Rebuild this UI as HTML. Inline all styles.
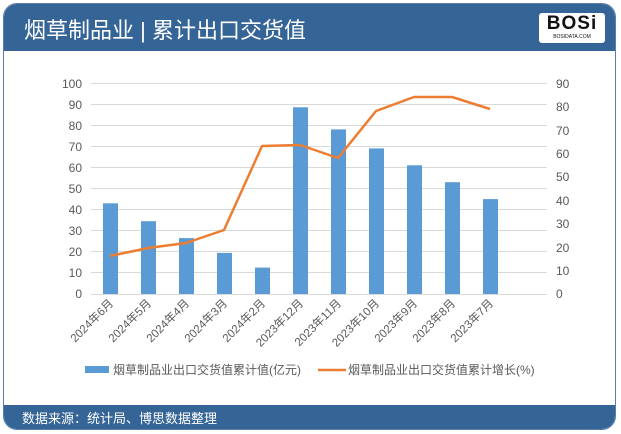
<!DOCTYPE html>
<html><head><meta charset="utf-8"><style>
body{margin:0;width:621px;height:434px;background:#fff;overflow:hidden;font-family:"Liberation Sans","Noto Sans CJK SC",sans-serif}
.frame{position:absolute;left:3px;top:3px;width:613px;height:427px;border:1px solid #5b7fa8;border-radius:14px;overflow:hidden;box-sizing:border-box}
.hdr{position:absolute;left:0;top:0;width:100%;height:47px;background:#356596}
.hdr .t{position:absolute;left:20px;top:9px;color:#fff;font-size:22px}
.logo{position:absolute;right:10px;top:9px;width:66px;height:30px;background:#fff;border-radius:3px;text-align:center}
.logo b{display:block;font:900 19px "Liberation Sans",sans-serif;color:#111;line-height:21px;letter-spacing:1px}
.logo i{display:block;font:5px "Liberation Sans",sans-serif;font-style:normal;color:#111}
.ftr{position:absolute;left:0;bottom:0;width:100%;height:24px;background:#356596;color:#fff;font-size:13px}
.ftr span{position:absolute;left:18px;top:3px}
</style></head><body>
<div class="frame">
<div class="hdr"><div class="t">烟草制品业 | 累计出口交货值</div><div class="logo"><b>BOSi</b><i>BOSIDATA.COM</i></div></div>
<div class="ftr"><span>数据来源：统计局、博思数据整理</span></div>
</div>
<svg style="position:absolute;left:0;top:0" width="621" height="434" font-family="Liberation Sans,Noto Sans CJK SC,sans-serif" font-size="12" fill="#595959">
<g stroke="#d9d9d9" stroke-width="1">
<line x1="91" x2="547" y1="83.5" y2="83.5"/><line x1="91" x2="547" y1="104.5" y2="104.5"/><line x1="91" x2="547" y1="125.5" y2="125.5"/><line x1="91" x2="547" y1="146.5" y2="146.5"/><line x1="91" x2="547" y1="167.5" y2="167.5"/><line x1="91" x2="547" y1="188.5" y2="188.5"/><line x1="91" x2="547" y1="209.5" y2="209.5"/><line x1="91" x2="547" y1="230.5" y2="230.5"/><line x1="91" x2="547" y1="251.5" y2="251.5"/><line x1="91" x2="547" y1="272.5" y2="272.5"/><line x1="91" x2="547" y1="294.5" y2="294.5"/>
</g>
<g text-anchor="end">
<text x="82" y="88">100</text><text x="82" y="109">90</text><text x="82" y="130">80</text><text x="82" y="151">70</text><text x="82" y="172">60</text><text x="82" y="193">50</text><text x="82" y="214">40</text><text x="82" y="235">30</text><text x="82" y="256">20</text><text x="82" y="277">10</text><text x="82" y="298">0</text>
</g>
<g>
<text x="556" y="88">90</text><text x="556" y="111">80</text><text x="556" y="135">70</text><text x="556" y="158">60</text><text x="556" y="181">50</text><text x="556" y="205">40</text><text x="556" y="228">30</text><text x="556" y="252">20</text><text x="556" y="275">10</text><text x="556" y="298">0</text>
</g>
<g fill="#5b9bd5">
<rect x="103" y="203.3" width="15" height="90.7"/><rect x="141" y="221.2" width="15" height="72.8"/><rect x="179" y="238.1" width="15" height="55.9"/><rect x="217" y="252.9" width="15" height="41.1"/><rect x="255" y="267.6" width="15" height="26.4"/><rect x="293" y="107.3" width="15" height="186.7"/><rect x="331" y="129.4" width="15" height="164.6"/><rect x="369" y="148.4" width="15" height="145.6"/><rect x="407" y="165.3" width="15" height="128.7"/><rect x="445" y="182.2" width="15" height="111.8"/><rect x="483" y="199.1" width="15" height="94.9"/>
</g>
<polyline fill="none" stroke="#ed7d31" stroke-width="2.5" stroke-linejoin="round" points="110,256 148,248 186,243 224,230 262,146 300,145 338,158 376,111 414,97 452,97 490,109"/>
<g text-anchor="end" font-size="11.5">
<text transform="translate(114,304) rotate(-45)">2024年6月</text><text transform="translate(152,304) rotate(-45)">2024年5月</text><text transform="translate(190,304) rotate(-45)">2024年4月</text><text transform="translate(228,304) rotate(-45)">2024年3月</text><text transform="translate(266,304) rotate(-45)">2024年2月</text><text transform="translate(304,304) rotate(-45)">2023年12月</text><text transform="translate(342,304) rotate(-45)">2023年11月</text><text transform="translate(380,304) rotate(-45)">2023年10月</text><text transform="translate(418,304) rotate(-45)">2023年9月</text><text transform="translate(456,304) rotate(-45)">2023年8月</text><text transform="translate(494,304) rotate(-45)">2023年7月</text>
</g>
<rect x="85" y="366" width="24" height="7" fill="#5b9bd5"/>
<text x="113" y="374" font-size="12">烟草制品业出口交货值累计值(亿元)</text>
<line x1="318" x2="346" y1="370" y2="370" stroke="#ed7d31" stroke-width="2.5"/>
<text x="348" y="374" font-size="12">烟草制品业出口交货值累计增长(%)</text>
</svg>
</body></html>
